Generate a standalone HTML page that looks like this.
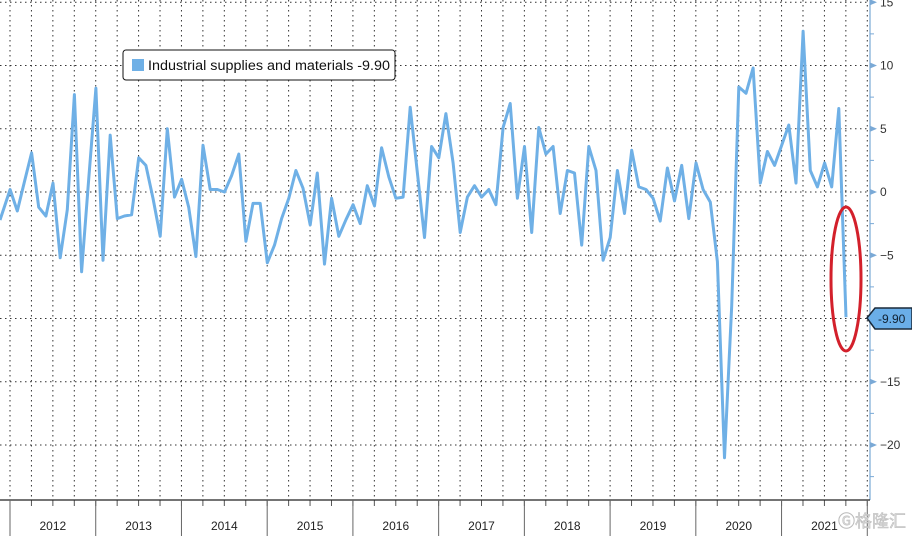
<!DOCTYPE html>
<html><head><meta charset="utf-8"><style>
body{margin:0;background:#fff;}
svg{display:block;font-family:"Liberation Sans","Noto Sans CJK SC",sans-serif;}
</style></head><body>
<svg width="912" height="536" viewBox="0 0 912 536">
<g id="grid"></g>
<g id="axes"></g>
<path id="line" fill="none" stroke="#6fb0e6" stroke-width="3" stroke-linejoin="round"/>
<ellipse cx="846" cy="279" rx="15" ry="72" fill="none" stroke="#d3202b" stroke-width="3"/>
<g>
<rect x="123" y="50" width="272" height="30" rx="3" fill="#fff" stroke="#111" stroke-width="1"/>
<rect x="132" y="59" width="12" height="12" fill="#6fb0e6"/>
<text x="148" y="70" font-size="13.5" fill="#111" textLength="242" lengthAdjust="spacingAndGlyphs">Industrial supplies and materials -9.90</text>
</g>
<g>
<path d="M867,318 L875,308 L912,308 L912,329 L875,329 Z" fill="#6aaee8" stroke="#1a2a3a" stroke-width="1.5"/>
<text x="878" y="323" font-size="12" fill="#102030">-9.90</text>
</g>
<text x="838" y="527" font-size="17" fill="#d8d8d8" stroke="#bbb" stroke-width="0.5">Ⓖ格隆汇</text>
</svg>
<script>
const values=[-1.5,0.2,-1.5,0.8,3.1,-1.2,-1.9,0.7,-5.2,-1.4,7.7,-6.3,1.0,8.2,-5.4,4.5,-2.1,-1.9,-1.8,2.7,2.1,-0.5,-3.5,5.0,-0.4,1.0,-1.2,-5.1,3.7,0.2,0.2,0.0,1.3,3.0,-3.9,-0.9,-0.9,-5.6,-4.2,-2.1,-0.5,1.7,0.3,-2.6,1.5,-5.7,-0.5,-3.5,-2.2,-1.0,-2.5,0.5,-1.1,3.5,1.2,-0.5,-0.4,6.7,1.5,-3.6,3.6,2.7,6.2,2.3,-3.2,-0.4,0.5,-0.4,0.2,-1.0,5.1,7.0,-0.5,3.6,-3.2,5.1,3.0,3.6,-1.7,1.7,1.5,-4.2,3.6,1.7,-5.4,-3.6,1.7,-1.7,3.3,0.4,0.2,-0.5,-2.3,1.9,-0.7,2.1,-2.1,2.3,0.2,-0.8,-5.5,-21.0,-9.0,8.3,7.8,9.8,0.7,3.2,2.1,3.7,5.3,0.7,12.7,1.7,0.4,2.3,0.4,6.6,-9.9];
const yTicks=[15,10,5,0,-5,-10,-15,-20];
const years=["2012","2013","2014","2015","2016","2017","2018","2019","2020","2021"];
const NS="http://www.w3.org/2000/svg";
const dx=7.144;
function xOf(i){return 3+i*dx;}
function yOf(v){return 192-v*12.65;}
function yearX(k){return 10+k*12*dx;}
const grid=document.getElementById('grid'),axes=document.getElementById('axes');
function mk(tag,attrs,parent){const e=document.createElementNS(NS,tag);for(const k in attrs)e.setAttribute(k,attrs[k]);parent.appendChild(e);return e;}
yTicks.forEach(v=>{
 const l=mk('line',{x1:0,x2:870,y1:yOf(v),y2:yOf(v),stroke:'#333','stroke-width':1,'stroke-dasharray':'1.5,3.5'},grid);
 
 
 const t=mk('path',{d:`M870,${yOf(v)-3} L877,${yOf(v)} L870,${yOf(v)+3} Z`,fill:'#7aa9d6'},axes);
 
 
 const tx=mk('text',{x:880,y:yOf(v)+4,'font-size':12,fill:'#333'},axes);
 tx.textContent=String(v).replace('-','\u2212');
 
 
});
for(let v=12.5;v>-25;v-=5){
 const m=mk('line',{x1:870,x2:874,y1:yOf(v),y2:yOf(v),stroke:'#7aa9d6'},axes);
 
 
}
for(let q=0;q<41;q++){
 const x=10+q*3*dx;
 if(x>868)break;
 const l=mk('line',{x1:x,x2:x,y1:0,y2:500,stroke:'#333','stroke-width':1,'stroke-dasharray':'1.5,3.5'},grid);
 
 
 const t=mk('line',{x1:x,x2:x,y1:500,y2:506,stroke:'#555'},axes);
 
 
}
const ya=mk('line',{x1:870,x2:870,y1:0,y2:500,stroke:'#7aa9d6','stroke-width':1.2},axes);


const xa=mk('line',{x1:0,x2:870,y1:500,y2:500,stroke:'#222','stroke-width':1.2},axes);


years.forEach((y,k)=>{
 const s=mk('line',{x1:yearX(k),x2:yearX(k),y1:500,y2:536,stroke:'#666'},axes);
 
 
 const t=mk('text',{x:yearX(k)+6*dx,y:530,'font-size':12,fill:'#222','text-anchor':'middle'},axes);
 t.textContent=y;
 
 
});
const s2=mk('line',{x1:yearX(10),x2:yearX(10),y1:500,y2:536,stroke:'#666'},axes);


let d='M0,'+yOf(values[0]+(values[0]-values[1])*3/7.144);
values.forEach((v,i)=>{d+=' L'+xOf(i).toFixed(1)+','+yOf(v).toFixed(1);});
document.getElementById('line').setAttribute('d',d);
</script>
</body></html>
